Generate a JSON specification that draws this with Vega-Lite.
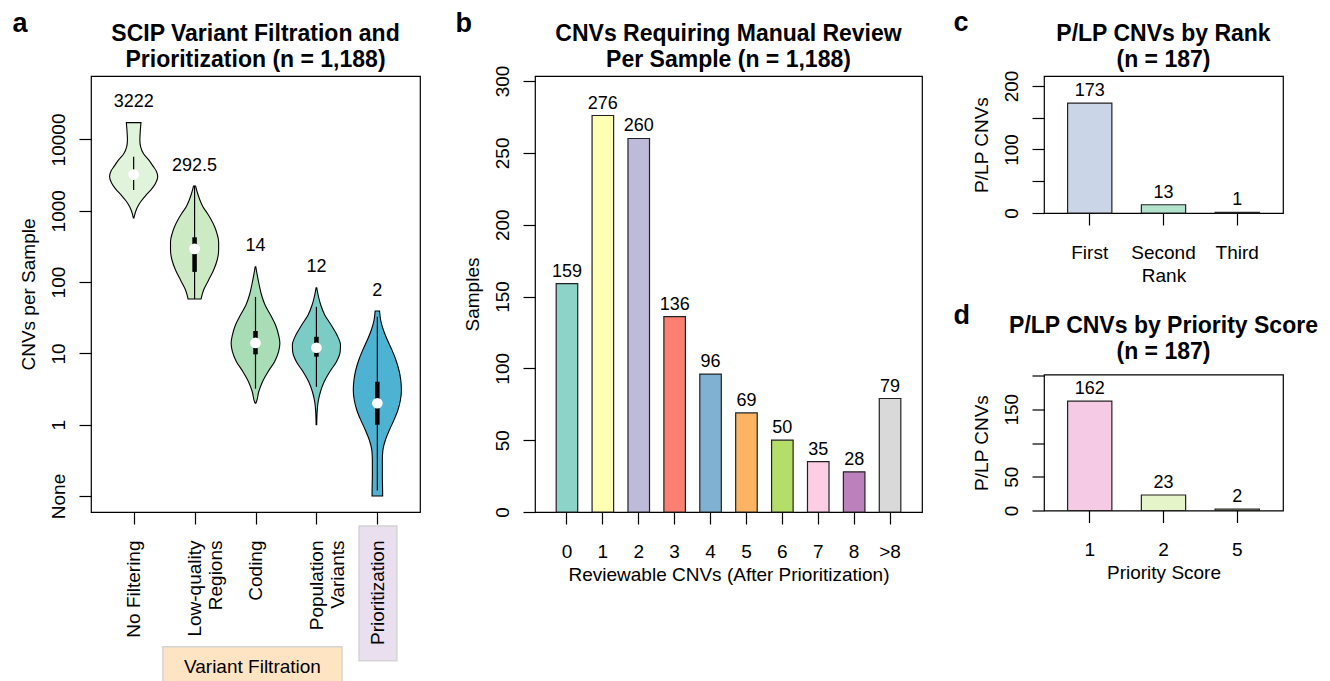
{
  "$schema": "https://vega.github.io/schema/vega-lite/v6.json",
  "padding": {"left": 12, "top": 9, "right": 5, "bottom": 0},
  "background": "white",
  "config": {
    "font": "Liberation Sans",
    "view": {"stroke": "black", "strokeWidth": 1.2},
    "axis": {"grid": false, "domain": false, "tickSize": 12, "tickColor": "black", "tickWidth": 1.2, "labelFontSize": 19, "titleFontSize": 19, "labelColor": "black", "titleColor": "black", "titleFontWeight": "normal", "labelFont": "Liberation Sans", "titleFont": "Liberation Sans"},
    "axisY": {"labelAngle": -90, "labelAlign": "center", "labelBaseline": "alphabetic", "labelPadding": 15, "minExtent": 46, "maxExtent": 46, "titlePadding": 7},
    "axisX": {"labelAngle": 0, "labelPadding": 18, "minExtent": 48, "maxExtent": 48, "titlePadding": 5},
    "title": {"fontSize": 23, "fontWeight": "bold", "lineHeight": 26, "color": "black", "font": "Liberation Sans"}
  },
  "datasets": {
    "violin": [
      {"stage": "No Filtering", "v": 17200, "lo": 0.880, "hi": 1.120},
      {"stage": "No Filtering", "v": 13600, "lo": 0.890, "hi": 1.110},
      {"stage": "No Filtering", "v": 9840, "lo": 0.898, "hi": 1.102},
      {"stage": "No Filtering", "v": 7850, "lo": 0.885, "hi": 1.115},
      {"stage": "No Filtering", "v": 6240, "lo": 0.835, "hi": 1.165},
      {"stage": "No Filtering", "v": 5160, "lo": 0.753, "hi": 1.247},
      {"stage": "No Filtering", "v": 4190, "lo": 0.679, "hi": 1.321},
      {"stage": "No Filtering", "v": 3610, "lo": 0.629, "hi": 1.371},
      {"stage": "No Filtering", "v": 3010, "lo": 0.605, "hi": 1.395},
      {"stage": "No Filtering", "v": 2455, "lo": 0.638, "hi": 1.362},
      {"stage": "No Filtering", "v": 2024, "lo": 0.703, "hi": 1.297},
      {"stage": "No Filtering", "v": 1667, "lo": 0.794, "hi": 1.206},
      {"stage": "No Filtering", "v": 1372, "lo": 0.876, "hi": 1.124},
      {"stage": "No Filtering", "v": 1130, "lo": 0.937, "hi": 1.063},
      {"stage": "No Filtering", "v": 961, "lo": 0.970, "hi": 1.030},
      {"stage": "No Filtering", "v": 793, "lo": 0.995, "hi": 1.005},
      {"stage": "Low-quality Regions", "v": 2228, "lo": 1.984, "hi": 2.016},
      {"stage": "Low-quality Regions", "v": 1760, "lo": 1.951, "hi": 2.049},
      {"stage": "Low-quality Regions", "v": 1417, "lo": 1.913, "hi": 2.087},
      {"stage": "Low-quality Regions", "v": 1142, "lo": 1.863, "hi": 2.137},
      {"stage": "Low-quality Regions", "v": 922, "lo": 1.791, "hi": 2.209},
      {"stage": "Low-quality Regions", "v": 743, "lo": 1.725, "hi": 2.275},
      {"stage": "Low-quality Regions", "v": 598, "lo": 1.671, "hi": 2.329},
      {"stage": "Low-quality Regions", "v": 483, "lo": 1.633, "hi": 2.367},
      {"stage": "Low-quality Regions", "v": 369, "lo": 1.605, "hi": 2.395},
      {"stage": "Low-quality Regions", "v": 282, "lo": 1.605, "hi": 2.395},
      {"stage": "Low-quality Regions", "v": 204, "lo": 1.629, "hi": 2.371},
      {"stage": "Low-quality Regions", "v": 148, "lo": 1.687, "hi": 2.313},
      {"stage": "Low-quality Regions", "v": 107, "lo": 1.769, "hi": 2.231},
      {"stage": "Low-quality Regions", "v": 77.5, "lo": 1.852, "hi": 2.148},
      {"stage": "Low-quality Regions", "v": 58, "lo": 1.893, "hi": 2.107},
      {"stage": "Coding", "v": 164, "lo": 2.995, "hi": 3.005},
      {"stage": "Coding", "v": 126, "lo": 2.972, "hi": 3.028},
      {"stage": "Coding", "v": 91, "lo": 2.939, "hi": 3.061},
      {"stage": "Coding", "v": 65.9, "lo": 2.901, "hi": 3.099},
      {"stage": "Coding", "v": 47.7, "lo": 2.843, "hi": 3.157},
      {"stage": "Coding", "v": 34.6, "lo": 2.753, "hi": 3.247},
      {"stage": "Coding", "v": 25, "lo": 2.671, "hi": 3.329},
      {"stage": "Coding", "v": 18.1, "lo": 2.621, "hi": 3.379},
      {"stage": "Coding", "v": 13.9, "lo": 2.600, "hi": 3.400},
      {"stage": "Coding", "v": 10.6, "lo": 2.621, "hi": 3.379},
      {"stage": "Coding", "v": 7.65, "lo": 2.687, "hi": 3.313},
      {"stage": "Coding", "v": 5.54, "lo": 2.794, "hi": 3.206},
      {"stage": "Coding", "v": 4.01, "lo": 2.885, "hi": 3.115},
      {"stage": "Coding", "v": 2.9, "lo": 2.947, "hi": 3.053},
      {"stage": "Coding", "v": 2.1, "lo": 2.984, "hi": 3.016},
      {"stage": "Coding", "v": 2.0, "lo": 2.995, "hi": 3.005},
      {"stage": "Population Variants", "v": 83.4, "lo": 3.995, "hi": 4.005},
      {"stage": "Population Variants", "v": 65.9, "lo": 3.972, "hi": 4.028},
      {"stage": "Population Variants", "v": 47.7, "lo": 3.929, "hi": 4.071},
      {"stage": "Population Variants", "v": 34.6, "lo": 3.863, "hi": 4.137},
      {"stage": "Population Variants", "v": 25, "lo": 3.758, "hi": 4.242},
      {"stage": "Population Variants", "v": 18.1, "lo": 3.662, "hi": 4.338},
      {"stage": "Population Variants", "v": 13.1, "lo": 3.605, "hi": 4.395},
      {"stage": "Population Variants", "v": 10.6, "lo": 3.610, "hi": 4.390},
      {"stage": "Population Variants", "v": 7.65, "lo": 3.671, "hi": 4.329},
      {"stage": "Population Variants", "v": 5.54, "lo": 3.781, "hi": 4.219},
      {"stage": "Population Variants", "v": 4.01, "lo": 3.873, "hi": 4.127},
      {"stage": "Population Variants", "v": 2.9, "lo": 3.934, "hi": 4.066},
      {"stage": "Population Variants", "v": 2.1, "lo": 3.972, "hi": 4.028},
      {"stage": "Population Variants", "v": 1.52, "lo": 3.988, "hi": 4.012},
      {"stage": "Population Variants", "v": 1.0, "lo": 3.995, "hi": 4.005},
      {"stage": "Prioritization", "v": 39.3, "lo": 4.964, "hi": 5.036},
      {"stage": "Prioritization", "v": 29.4, "lo": 4.946, "hi": 5.054},
      {"stage": "Prioritization", "v": 21.3, "lo": 4.901, "hi": 5.099},
      {"stage": "Prioritization", "v": 15.4, "lo": 4.835, "hi": 5.165},
      {"stage": "Prioritization", "v": 11.2, "lo": 4.761, "hi": 5.239},
      {"stage": "Prioritization", "v": 8.08, "lo": 4.695, "hi": 5.305},
      {"stage": "Prioritization", "v": 5.85, "lo": 4.646, "hi": 5.354},
      {"stage": "Prioritization", "v": 4.24, "lo": 4.616, "hi": 5.384},
      {"stage": "Prioritization", "v": 3.07, "lo": 4.605, "hi": 5.395},
      {"stage": "Prioritization", "v": 2.22, "lo": 4.621, "hi": 5.379},
      {"stage": "Prioritization", "v": 1.61, "lo": 4.662, "hi": 5.338},
      {"stage": "Prioritization", "v": 1.16, "lo": 4.728, "hi": 5.272},
      {"stage": "Prioritization", "v": 0.843, "lo": 4.802, "hi": 5.198},
      {"stage": "Prioritization", "v": 0.61, "lo": 4.868, "hi": 5.132},
      {"stage": "Prioritization", "v": 0.44, "lo": 4.909, "hi": 5.091},
      {"stage": "Prioritization", "v": 0.32, "lo": 4.918, "hi": 5.082},
      {"stage": "Prioritization", "v": 0.197, "lo": 4.918, "hi": 5.082},
      {"stage": "Prioritization", "v": 0.121, "lo": 4.914, "hi": 5.086},
      {"stage": "Prioritization", "v": 0.1, "lo": 4.913, "hi": 5.087}
    ],
    "box": [
      {"stage": "No Filtering", "pos": 1, "wlo": 1960, "whi": 5740, "q1": 2800, "q3": 3600, "med": 3222, "labely": 34000, "label": "3222"},
      {"stage": "Low-quality Regions", "pos": 2, "wlo": 58, "whi": 2228, "q1": 139, "q3": 425, "med": 292.5, "labely": 4300, "label": "292.5"},
      {"stage": "Coding", "pos": 3, "wlo": 3.2, "whi": 62, "q1": 9.7, "q3": 20.6, "med": 14, "labely": 320, "label": "14"},
      {"stage": "Population Variants", "pos": 4, "wlo": 3.4, "whi": 45, "q1": 9.0, "q3": 17.1, "med": 12, "labely": 165, "label": "12"},
      {"stage": "Prioritization", "pos": 5, "wlo": 0.12, "whi": 32.7, "q1": 1.0, "q3": 4.0, "med": 2, "labely": 76, "label": "2"}
    ],
    "groups": [
      {"group": "Variant Filtration", "x1": 1.48, "x2": 4.42, "ytop": 0.000769, "ybot": 0.000138, "ytext": 0.000404},
      {"group": "Prioritization", "x1": 4.70, "x2": 5.32, "ytop": 0.0379, "ybot": 0.00049, "ytext": null}
    ],
    "review": [
      {"k": "0", "n": 159}, {"k": "1", "n": 276}, {"k": "2", "n": 260}, {"k": "3", "n": 136}, {"k": "4", "n": 96},
      {"k": "5", "n": 69}, {"k": "6", "n": 50}, {"k": "7", "n": 35}, {"k": "8", "n": 28}, {"k": ">8", "n": 79}
    ],
    "rank": [
      {"rank": "First", "n": 173}, {"rank": "Second", "n": 13}, {"rank": "Third", "n": 1}
    ],
    "score": [
      {"score": "1", "n": 162}, {"score": "2", "n": 23}, {"score": "5", "n": 2}
    ]
  },
  "resolve": {"scale": {"color": "independent", "fill": "independent"}},
  "spacing": 34,
  "hconcat": [
    {
      "title": {"text": "a", "fontSize": 27, "fontWeight": "bold", "anchor": "start", "frame": "bounds", "offset": -15.5, "dx": -6},
      "vconcat": [
        {
          "width": 329,
          "height": 436,
          "title": {"text": ["SCIP Variant Filtration and", "Prioritization (n = 1,188)"], "anchor": "middle", "frame": "group", "offset": 4},
          "encoding": {
            "x": {"type": "quantitative", "scale": {"domain": [0.3, 5.7], "nice": false, "zero": false}},
            "y": {"type": "quantitative", "scale": {"type": "log", "domain": [0.0597, 77600], "nice": false}}
          },
          "layer": [
            {
              "data": {"name": "groups"},
              "mark": {"type": "rect", "stroke": "#d4d4d4", "strokeWidth": 1.5},
              "encoding": {
                "x": {"field": "x1", "type": "quantitative"},
                "x2": {"field": "x2"},
                "y": {"field": "ytop", "type": "quantitative"},
                "y2": {"field": "ybot"},
                "fill": {"field": "group", "type": "nominal", "scale": {"domain": ["Variant Filtration", "Prioritization"], "range": ["#FFE4C4", "#E9DFEF"]}, "legend": null}
              }
            },
            {
              "data": {"name": "groups"},
              "transform": [{"filter": "datum.ytext != null"}],
              "mark": {"type": "text", "fontSize": 19, "color": "black", "baseline": "middle"},
              "encoding": {
                "x": {"datum": 2.95, "type": "quantitative"},
                "y": {"field": "ytext", "type": "quantitative"},
                "text": {"field": "group"}
              }
            },
            {
              "data": {"name": "violin"},
              "mark": {"type": "area", "orient": "horizontal", "interpolate": "monotone", "stroke": "black", "strokeWidth": 1.1, "fillOpacity": 1},
              "encoding": {
                "y": {"field": "v", "type": "quantitative", "axis": {"values": [0.1, 1, 10, 100, 1000, 10000], "labelExpr": "datum.value < 0.5 ? 'None' : format(datum.value, 'd')", "title": "CNVs per Sample"}},
                "x": {"field": "lo", "type": "quantitative", "axis": {"values": [1, 2, 3, 4, 5], "labelExpr": "split(['No Filtering', 'Low-quality|Regions', 'Coding', 'Population|Variants', 'Prioritization'][datum.value - 1], '|')", "labelAngle": -90, "labelAlign": "right", "labelBaseline": "middle", "labelPadding": 16, "labelLineHeight": 21, "minExtent": 0, "maxExtent": 300, "title": null, "zindex": 1}},
                "x2": {"field": "hi"},
                "color": {"field": "stage", "type": "nominal", "scale": {"domain": ["No Filtering", "Low-quality Regions", "Coding", "Population Variants", "Prioritization"], "range": ["#E0F3DB", "#CCEBC5", "#A8DDB5", "#7BCCC4", "#4EB3D3"]}, "legend": null}
              }
            },
            {
              "data": {"name": "box"},
              "mark": {"type": "rule", "color": "black", "strokeWidth": 1.2},
              "encoding": {
                "x": {"field": "pos", "type": "quantitative"},
                "y": {"field": "wlo", "type": "quantitative"},
                "y2": {"field": "whi"}
              }
            },
            {
              "data": {"name": "box"},
              "mark": {"type": "rule", "color": "black", "strokeWidth": 4.5},
              "encoding": {
                "x": {"field": "pos", "type": "quantitative"},
                "y": {"field": "q1", "type": "quantitative"},
                "y2": {"field": "q3"}
              }
            },
            {
              "data": {"name": "box"},
              "mark": {"type": "point", "shape": "circle", "filled": true, "color": "white", "opacity": 1, "size": 115},
              "encoding": {
                "x": {"field": "pos", "type": "quantitative"},
                "y": {"field": "med", "type": "quantitative"}
              }
            },
            {
              "data": {"name": "box"},
              "mark": {"type": "text", "fontSize": 18, "baseline": "middle", "color": "black"},
              "encoding": {
                "x": {"field": "pos", "type": "quantitative"},
                "y": {"field": "labely", "type": "quantitative"},
                "text": {"field": "label"}
              }
            }
          ]
        }
      ]
    },
    {
      "spacing": 30,
      "resolve": {"scale": {"color": "independent", "fill": "independent"}},
      "hconcat": [
        {
          "title": {"text": "b", "fontSize": 27, "fontWeight": "bold", "anchor": "start", "frame": "bounds", "offset": -15.5, "dx": -7},
          "vconcat": [
            {
              "width": 387,
              "height": 436,
              "title": {"text": ["CNVs Requiring Manual Review", "Per Sample (n = 1,188)"], "anchor": "middle", "frame": "group", "offset": -7},
              "data": {"name": "review"},
              "encoding": {
                "x": {"field": "k", "type": "nominal", "sort": null, "scale": {"paddingInner": 0.4, "paddingOuter": 0.59}, "axis": {"title": "Reviewable CNVs (After Prioritization)"}},
                "y": {"field": "n", "type": "quantitative", "scale": {"domain": [0, 303.5], "nice": false}, "axis": {"values": [0, 50, 100, 150, 200, 250, 300], "title": "Samples"}}
              },
              "layer": [
                {
                  "mark": {"type": "bar", "stroke": "#222", "strokeWidth": 1.2},
                  "encoding": {
                    "color": {"field": "k", "type": "nominal", "sort": null, "scale": {"domain": ["0", "1", "2", "3", "4", "5", "6", "7", "8", ">8"], "range": ["#8DD3C7", "#FFFFB3", "#BEBADA", "#FB8072", "#80B1D3", "#FDB462", "#B3DE69", "#FCCDE5", "#BC80BD", "#D9D9D9"]}, "legend": null}
                  }
                },
                {
                  "mark": {"type": "text", "fontSize": 18, "baseline": "alphabetic", "dy": -7, "color": "black"},
                  "encoding": {"text": {"field": "n", "type": "quantitative"}}
                }
              ]
            }
          ]
        },
        {
          "spacing": 15.5,
          "resolve": {"scale": {"color": "independent", "fill": "independent"}},
          "vconcat": [
            {
              "title": {"text": "c", "fontSize": 27, "fontWeight": "bold", "anchor": "start", "frame": "bounds", "offset": -14.5, "dx": -18},
              "vconcat": [
                {
                  "width": 239,
                  "height": 137,
                  "title": {"text": ["P/LP CNVs by Rank", "(n = 187)"], "anchor": "middle", "frame": "group", "offset": -2},
                  "data": {"name": "rank"},
                  "encoding": {
                    "x": {"field": "rank", "type": "nominal", "sort": null, "scale": {"paddingInner": 0.4, "paddingOuter": 0.32}, "axis": {"title": "Rank"}},
                    "y": {"field": "n", "type": "quantitative", "scale": {"domain": [0, 215.7], "nice": false}, "axis": {"values": [0, 50, 100, 150, 200], "labelExpr": "datum.value % 100 == 0 ? datum.label : ''", "title": "P/LP CNVs"}}
                  },
                  "layer": [
                    {
                      "mark": {"type": "bar", "stroke": "#222", "strokeWidth": 1.2},
                      "encoding": {
                        "color": {"field": "rank", "type": "nominal", "scale": {"domain": ["First", "Second", "Third"], "range": ["#CBD5E8", "#B3E2CD", "#FDCDAC"]}, "legend": null}
                      }
                    },
                    {
                      "mark": {"type": "text", "fontSize": 18, "baseline": "alphabetic", "dy": -7, "color": "black"},
                      "encoding": {"text": {"field": "n", "type": "quantitative"}}
                    }
                  ]
                }
              ]
            },
            {
              "title": {"text": "d", "fontSize": 27, "fontWeight": "bold", "anchor": "start", "frame": "bounds", "offset": -16.5, "dx": -18},
              "vconcat": [
                {
                  "width": 239,
                  "height": 136,
                  "title": {"text": ["P/LP CNVs by Priority Score", "(n = 187)"], "anchor": "middle", "frame": "group", "offset": 11},
                  "data": {"name": "score"},
                  "encoding": {
                    "x": {"field": "score", "type": "nominal", "sort": null, "scale": {"paddingInner": 0.4, "paddingOuter": 0.32}, "axis": {"title": "Priority Score"}},
                    "y": {"field": "n", "type": "quantitative", "scale": {"domain": [0, 201.5], "nice": false}, "axis": {"values": [0, 50, 100, 150, 200], "labelExpr": "datum.value == 0 || datum.value == 50 || datum.value == 150 ? datum.label : ''", "title": "P/LP CNVs"}}
                  },
                  "layer": [
                    {
                      "mark": {"type": "bar", "stroke": "#222", "strokeWidth": 1.2},
                      "encoding": {
                        "color": {"field": "score", "type": "nominal", "scale": {"domain": ["1", "2", "5"], "range": ["#F4CAE4", "#E6F5C9", "#FFF2AE"]}, "legend": null}
                      }
                    },
                    {
                      "mark": {"type": "text", "fontSize": 18, "baseline": "alphabetic", "dy": -7, "color": "black"},
                      "encoding": {"text": {"field": "n", "type": "quantitative"}}
                    }
                  ]
                }
              ]
            }
          ]
        }
      ]
    }
  ]
}
